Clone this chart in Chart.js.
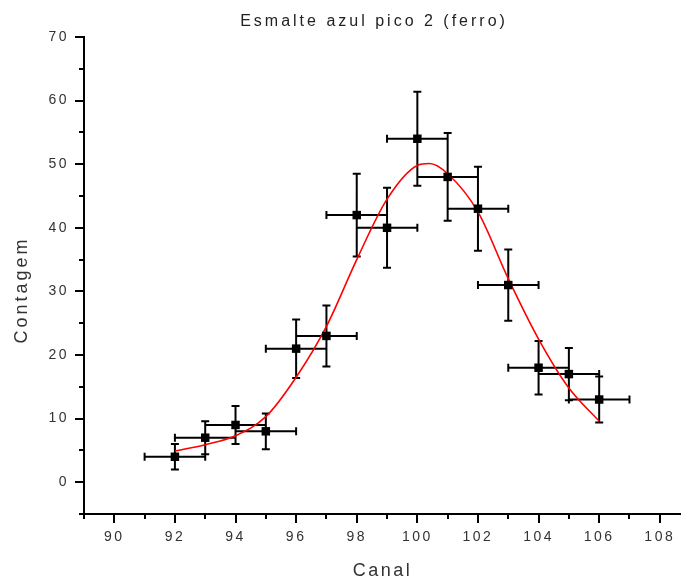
<!DOCTYPE html>
<html>
<head>
<meta charset="utf-8">
<title>Esmalte azul pico 2 (ferro)</title>
<script src="https://cdn.jsdelivr.net/npm/chart.js@4.4.1/dist/chart.umd.min.js"></script>
<style>
  html, body { margin: 0; padding: 0; background: #fff; }
  #wrap { width: 681px; height: 583px; position: relative; }
</style>
</head>
<body>
<div id="wrap"><canvas id="picoChart"></canvas></div>
<script>
// pontos medidos (canal, contagem) e incertezas
const canal    = [92, 93, 94, 95, 96, 97, 98, 99, 100, 101, 102, 103, 104, 105, 106];
const contagem = [4, 7, 9, 8, 21, 23, 42, 40, 54, 48, 43, 31, 18, 17, 13];
const erroX    = [1, 1, 1, 1, 1, 1, 1, 1, 1, 1, 1, 1, 1, 1, 1];
const erroY    = [2, 2.6, 3, 2.8, 4.6, 4.8, 6.5, 6.3, 7.4, 6.9, 6.6, 5.6, 4.2, 4.1, 3.6];

// curva de ajuste
const ajusteX = [92, 93, 94, 95, 96, 97, 98, 99, 100, 100.4, 101, 102, 103, 104, 105, 106];
const ajusteY = [4.9, 5.9, 7.3, 10.3, 16.5, 24.5, 35, 44.5, 49.8, 50.1, 48.5, 42.5, 32, 22.5, 14.8, 9.6];

// eixos
const xTicks = [90, 92, 94, 96, 98, 100, 102, 104, 106, 108];
const yTicks = [0, 10, 20, 30, 40, 50, 60, 70];
const xMin = 89, xMax = 108.7;
const yMin = -5, yMax = 70;

const fonte = "'Liberation Sans', Arial, sans-serif";
const espaco = '2.5px';

// texto com espaçamento entre letras (como no original)
const espacamentoPlugin = {
    id: 'espacamento',
    beforeUpdate(chart) { chart.ctx.letterSpacing = espaco; },
    beforeDraw(chart) { chart.ctx.letterSpacing = espaco; }
};

// barras de erro em x e y
const errorBarsPlugin = {
    id: 'errorBars',
    beforeDatasetsDraw(chart) {
        const { ctx, scales: { x, y } } = chart;
        const cap = 4;
        ctx.save();
        ctx.strokeStyle = '#000';
        ctx.lineWidth = 2;
        ctx.beginPath();
        canal.forEach((c, i) => {
            const px = x.getPixelForValue(c);
            const py = y.getPixelForValue(contagem[i]);
            const xa = x.getPixelForValue(c - erroX[i]);
            const xb = x.getPixelForValue(c + erroX[i]);
            const ya = y.getPixelForValue(contagem[i] - erroY[i]);
            const yb = y.getPixelForValue(contagem[i] + erroY[i]);
            ctx.moveTo(xa, py); ctx.lineTo(xb, py);
            ctx.moveTo(xa, py - cap); ctx.lineTo(xa, py + cap);
            ctx.moveTo(xb, py - cap); ctx.lineTo(xb, py + cap);
            ctx.moveTo(px, ya); ctx.lineTo(px, yb);
            ctx.moveTo(px - cap, ya); ctx.lineTo(px + cap, ya);
            ctx.moveTo(px - cap, yb); ctx.lineTo(px + cap, yb);
        });
        ctx.stroke();
        ctx.restore();
    }
};

// marcas maiores e menores dos eixos, para fora
const marcasPlugin = {
    id: 'marcas',
    afterDraw(chart) {
        const { ctx, chartArea, scales: { x, y } } = chart;
        ctx.save();
        ctx.strokeStyle = '#000';
        ctx.lineWidth = 2;
        ctx.beginPath();
        for (let v = xMin; v <= xMax; v++) {
            const px = Math.round(x.getPixelForValue(v));
            const len = v % 2 === 0 ? 9 : 5;
            ctx.moveTo(px, chartArea.bottom);
            ctx.lineTo(px, chartArea.bottom + len);
        }
        for (let v = yMin; v <= yMax; v += 5) {
            const py = Math.round(y.getPixelForValue(v));
            const len = v % 10 === 0 ? 9 : 5;
            ctx.moveTo(chartArea.left, py);
            ctx.lineTo(chartArea.left - len, py);
        }
        ctx.stroke();

        // títulos
        ctx.letterSpacing = '3px';
        ctx.fillStyle = '#222';
        ctx.textAlign = 'center';
        ctx.textBaseline = 'middle';
        ctx.font = '16px ' + fonte;
        ctx.fillText('Esmalte azul pico 2 (ferro)', 374, 22);

        ctx.fillStyle = '#333';
        ctx.font = '18px ' + fonte;
        ctx.translate(22, 290);
        ctx.rotate(-Math.PI / 2);
        ctx.fillText('Contagem', 0, 0);
        ctx.restore();
    }
};

const ctx = document.getElementById('picoChart').getContext('2d');
new Chart(ctx, {
    type: 'scatter',
    data: {
        datasets: [
            {
                label: 'Ajuste',
                type: 'line',
                data: ajusteX.map((v, i) => ({ x: v, y: ajusteY[i] })),
                borderColor: '#ff0000',
                borderWidth: 1.6,
                pointRadius: 0,
                fill: false,
                cubicInterpolationMode: 'monotone',
                order: 2
            },
            {
                label: 'Dados',
                data: canal.map((v, i) => ({ x: v, y: contagem[i] })),
                backgroundColor: '#000',
                borderWidth: 0,
                pointStyle: 'rect',
                pointRadius: 6,
                order: 1
            }
        ]
    },
    options: {
        responsive: true,
        maintainAspectRatio: false,
        animation: false,
        layout: { autoPadding: false, padding: { top: 37, left: 0, right: 0, bottom: 0 } },
        plugins: {
            legend: { display: false },
            tooltip: { enabled: false }
        },
        scales: {
            x: {
                type: 'linear',
                min: xMin,
                max: xMax,
                grid: { display: false, drawTicks: false },
                border: { display: true, color: '#000', width: 2 },
                ticks: { color: '#333', font: { family: fonte, size: 14 }, padding: 15, maxRotation: 0 },
                afterBuildTicks: scale => { scale.ticks = xTicks.map(v => ({ value: v })); },
                afterFit: scale => {
                    scale.height = 69;
                    scale.paddingLeft = 0;
                    scale.paddingRight = 0;
                },
                title: {
                    display: true,
                    text: 'Canal',
                    color: '#333',
                    font: { family: fonte, size: 18 },
                    padding: { top: 0, bottom: 1 }
                }
            },
            y: {
                type: 'linear',
                min: yMin,
                max: yMax,
                grid: { display: false, drawTicks: false },
                border: { display: true, color: '#000', width: 2 },
                ticks: { color: '#333', font: { family: fonte, size: 14 }, padding: 15 },
                afterBuildTicks: scale => { scale.ticks = yTicks.map(v => ({ value: v })); },
                afterFit: scale => {
                    scale.width = 84;
                    scale.paddingTop = 0;
                    scale.paddingBottom = 0;
                }
            }
        }
    },
    plugins: [espacamentoPlugin, errorBarsPlugin, marcasPlugin]
});
</script>
</body>
</html>
